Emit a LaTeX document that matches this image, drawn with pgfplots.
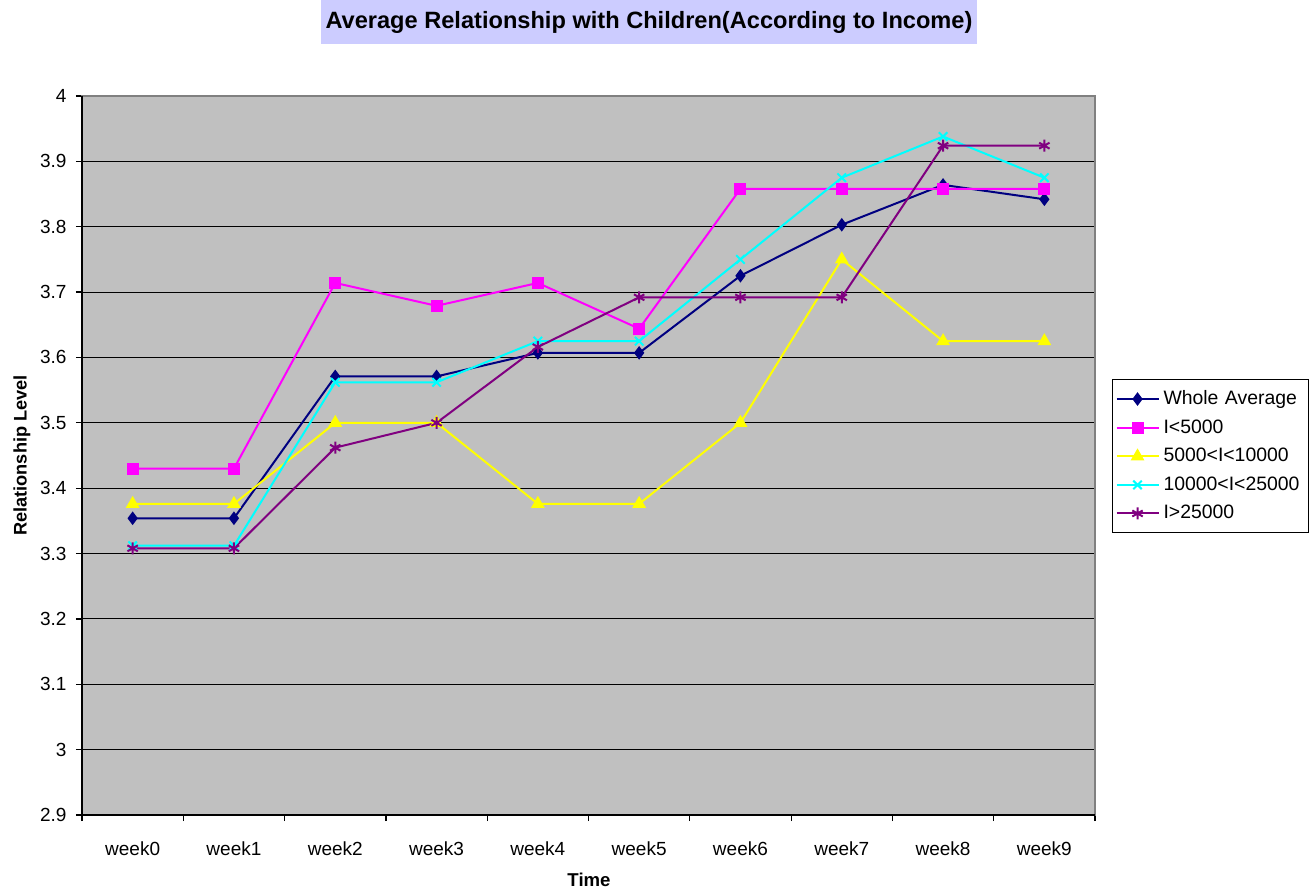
\documentclass[border=0pt]{standalone}
\usepackage{pgfplots}
\pgfplotsset{compat=1.18}
\usepackage{pgfplotstable}
\usepackage{fontspec}
\setmainfont{Liberation Sans}
\definecolor{plotgray}{HTML}{C0C0C0}
\definecolor{titlebg}{HTML}{CCCCFF}
\definecolor{cnavy}{HTML}{000080}
\definecolor{cmag}{HTML}{FF00FF}
\definecolor{cyel}{HTML}{FFFF00}
\definecolor{ccyan}{HTML}{00FFFF}
\definecolor{cpurp}{HTML}{800080}
\pgfplotstableread{
x   wa     l5     m10    m25    g25
0   3.354  3.430  3.376  3.312  3.308
1   3.354  3.430  3.376  3.312  3.308
2   3.571  3.714  3.500  3.562  3.462
3   3.571  3.679  3.500  3.562  3.500
4   3.607  3.714  3.376  3.625  3.616
5   3.607  3.644  3.376  3.625  3.692
6   3.725  3.858  3.500  3.750  3.692
7   3.803  3.858  3.750  3.875  3.692
8   3.864  3.858  3.625  3.938  3.924
9   3.842  3.858  3.625  3.875  3.924
}\datatable
\begin{document}
\begin{tikzpicture}
\path[use as bounding box] (-41pt,-37.5pt) rectangle (617pt,407.5pt);
\begin{axis}[
  scale only axis,
  width=506.5pt, height=359.5pt,
  at={(0,0)}, anchor=south west,
  xmin=-0.5, xmax=9.5,
  ymin=2.9, ymax=4,
  xtick={0,1,2,3,4,5,6,7,8,9},
  xticklabels={week0,week1,week2,week3,week4,week5,week6,week7,week8,week9},
  minor xtick={-0.5,0.5,1.5,2.5,3.5,4.5,5.5,6.5,7.5,8.5,9.5},
  ytick={2.9,3.0,3.1,3.2,3.3,3.4,3.5,3.6,3.7,3.8,3.9,4.0},
  yticklabels={2.9,3,3.1,3.2,3.3,3.4,3.5,3.6,3.7,3.8,3.9,4},
  tick align=outside,
  xtick pos=bottom, ytick pos=left,
  x tick style={draw=none},
  minor x tick style={draw=black, line width=0.6pt},
  y tick style={draw=black, line width=0.6pt},
  major tick length=3pt,
  minor tick length=3pt,
  ymajorgrids,
  major grid style={black, line width=0.5pt},
  axis line style={draw=gray, line width=0.8pt},
  axis background/.style={fill=plotgray},
  ticklabel style={font=\fontsize{9.5}{11}\selectfont},
  xticklabel style={yshift=-6.8pt},
  yticklabel style={xshift=-1.2pt},
  every axis title shift=0pt,
  title={Average Relationship with Children(According to Income)},
  title style={at={(rel axis cs:0.5597,1.1029)}, anchor=center,
    fill=titlebg, minimum width=328pt, minimum height=22pt, inner sep=0pt,
    font=\bfseries\fontsize{11.8}{13}\selectfont},
  xlabel={Time},
  xlabel style={at={(rel axis cs:0.5005,-0.0904)}, anchor=center,
    font=\bfseries\fontsize{9.3}{11}\selectfont},
  ylabel={Relationship Level},
  ylabel style={at={(rel axis cs:-0.0592,0.5)}, anchor=center,
    font=\bfseries\fontsize{9.1}{11}\selectfont},
  legend style={at={(rel axis cs:1.0168,0.6064)}, anchor=north west,
    draw=black, fill=white, line width=0.5pt,
    font=\fontsize{9.7}{11}\selectfont,
    row sep=2pt, inner xsep=1.5pt, inner ysep=3.5pt,
    text width=69pt},
  legend cell align=left,
  legend image code/.code={%
    \draw[mark repeat=2,mark phase=2] plot coordinates {(0pt,0pt) (10.5pt,0pt) (21pt,0pt)};},
  every axis plot/.append style={line width=1pt},
  clip=false,
]
\addplot[cnavy, mark=diamond*, mark size=2.6pt, mark options={fill=cnavy}] table[x=x,y=wa]{\datatable};
\addlegendentry{Whole Average}
\addplot[cmag, mark=square*, mark size=2.5pt, mark options={fill=cmag}] table[x=x,y=l5]{\datatable};
\addlegendentry{I<5000}
\addplot[cyel, mark=triangle*, mark size=3pt, mark options={fill=cyel}] table[x=x,y=m10]{\datatable};
\addlegendentry{5000<I<10000}
\addplot[ccyan, mark=x, mark size=3pt] table[x=x,y=m25]{\datatable};
\addlegendentry{10000<I<25000}
\addplot[cpurp, mark=asterisk, mark size=3pt] table[x=x,y=g25]{\datatable};
\addlegendentry{I>25000}
\draw[black, line width=0.8pt] (rel axis cs:0,1) -- (rel axis cs:0,0) -- (rel axis cs:1,0);
\end{axis}
\end{tikzpicture}
\end{document}
